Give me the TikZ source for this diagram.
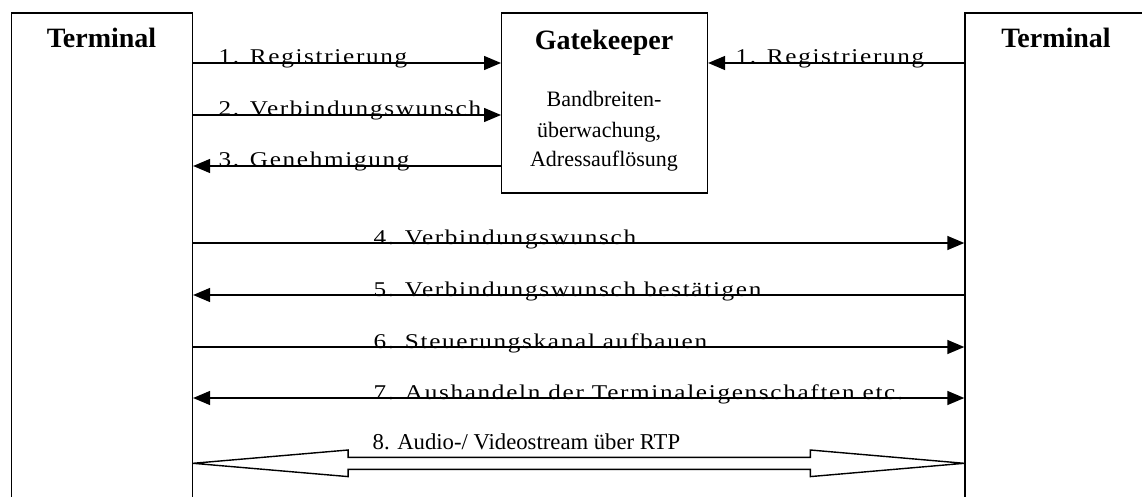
\documentclass[tikz,border=0pt]{standalone}
\usepackage{fontspec}
\setmainfont{Liberation Serif}
\newfontfamily\msgfont{Liberation Serif}[FakeStretch=1.2,LetterSpace=8]
\usetikzlibrary{arrows.meta,calc}
\begin{document}
\begin{tikzpicture}[x=1pt,y=-1pt,
  line width=1.4pt,
  lifeline/.style={draw, line width=1.4pt, minimum width=180.7pt, minimum height=600pt,
    anchor=north west, inner sep=0pt},
  gkbox/.style={draw, line width=1.4pt, minimum width=205.7pt, minimum height=180pt,
    anchor=north west, inner sep=0pt},
  boxtitle/.style={anchor=base, inner sep=0pt, font=\bfseries\fontsize{28}{30}\selectfont},
  boxbody/.style={anchor=base, inner sep=0pt, font=\fontsize{22}{30}\selectfont},
  msg/.style={-{Triangle[length=17pt,width=14pt]}},
  msgboth/.style={{Triangle[length=17pt,width=14pt]}-{Triangle[length=17pt,width=14pt]}},
  msglabel/.style={anchor=base west, inner sep=0pt, font=\msgfont\fontsize{21}{24}\selectfont},
  streamlabel/.style={anchor=base west, inner sep=0pt, font=\fontsize{22.7}{26}\selectfont},
  stream/.style={draw, line width=1.4pt, fill=white, line join=miter}]
\useasboundingbox (0,0) rectangle (1142,497);
\clip (0,0) rectangle (1142,497);

% the three participants
\node[lifeline] (tl) at (11,12.3) {};
\node[lifeline] (tr) at (964.3,12.3) {};
\node[gkbox] (gk) at (501,12.3) {};

\node[boxtitle] (tlt) at (101.5,48) {Terminal};
\node[boxtitle] (trt) at (1056,48) {Terminal};
\node[boxtitle] (gkt) at (604,50) {Gatekeeper};
\node[boxbody] (gkb1) at (604,107) {Bandbreiten-};
\node[boxbody] (gkb2) at (599,138) {überwachung,};
\node[boxbody] (gkb3) at (604,167) {Adressauflösung};

% message levels
\coordinate (m1) at (0,63);
\coordinate (m2) at (0,115);
\coordinate (m3) at (0,166);
\coordinate (m4) at (0,243);
\coordinate (m5) at (0,295);
\coordinate (m6) at (0,347);
\coordinate (m7) at (0,398);
\coordinate (m8) at (0,463.3);

% registration and admission with the gatekeeper
\draw[msg] (tl.east |- m1) -- (gk.west |- m1);
\draw[msg] (tr.west |- m1) -- (gk.east |- m1);
\draw[msg] (tl.east |- m2) -- (gk.west |- m2);
\draw[msg] (gk.west |- m3) -- (tl.east |- m3);

\node[msglabel] (l1a) at (218,64) {1. Registrierung};
\node[msglabel] (l1b) at (735,64) {1. Registrierung};
\node[msglabel] (l2) at (218,116) {2. Verbindungswunsch};
\node[msglabel] (l3) at (218,167) {3. Genehmigung};

% call setup between the terminals
\draw[msg] (tl.east |- m4) -- (tr.west |- m4);
\draw[msg] (tr.west |- m5) -- (tl.east |- m5);
\draw[msg] (tl.east |- m6) -- (tr.west |- m6);
\draw[msgboth] (tl.east |- m7) -- (tr.west |- m7);

\node[msglabel] (l4) at (373,244) {4. Verbindungswunsch};
\node[msglabel] (l5) at (373,296) {5. Verbindungswunsch bestätigen};
\node[msglabel] (l6) at (373,348) {6. Steuerungskanal aufbauen};
\node[msglabel] (l7) at (373,399) {7. Aushandeln der Terminaleigenschaften etc.};

% media stream as a hollow double arrow
\path (tl.east |- m8) coordinate (sa)
      (tr.west |- m8) coordinate (sb);
\draw[stream] (sa) -- ++(155,-13.3) -- ++(0,7.3) -- ($(sb)+(-154,-6)$) -- ++(0,-7.3)
  -- (sb) -- ++(-154,13.3) -- ++(0,-7.3) -- ($(sa)+(155,6)$) -- ++(0,7.3) -- cycle;
\node[streamlabel] (l8) at (372,449) {8. Audio-/ Videostream über RTP};
\end{tikzpicture}
\end{document}
